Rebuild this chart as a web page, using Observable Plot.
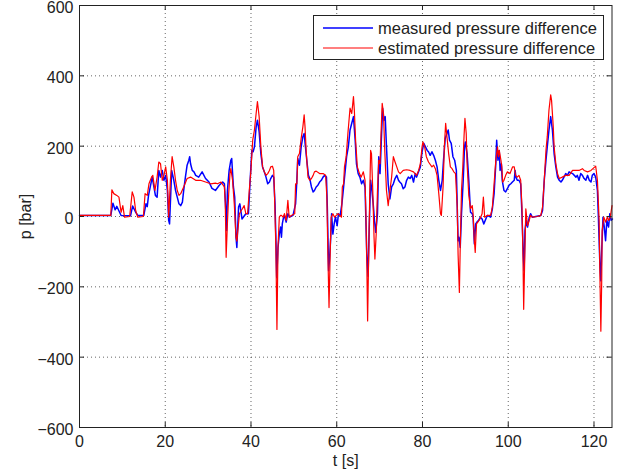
<!DOCTYPE html>
<html>
<head>
<meta charset="utf-8">
<script src="https://cdn.jsdelivr.net/npm/d3@7"></script>
<script src="https://cdn.jsdelivr.net/npm/@observablehq/plot@0.6"></script>
<style>
  html, body { margin: 0; padding: 0; background: #fff; }
  #wrap { position: relative; width: 621px; height: 473px; font-family: "Liberation Sans", Arial, Helvetica, sans-serif; }
  #legend { position: absolute; left: 313px; top: 15px; width: 291px; height: 45px; border: 1px solid #222; background: #fff; box-sizing: border-box; }
  #legend .row { position: absolute; left: 0; height: 20px; display: flex; align-items: center; font-size: 16.5px; color: #222; white-space: nowrap; }
  #legend svg { margin-left: 9px; margin-right: 5px; }
</style>
</head>
<body>
<div id="wrap"></div>
<script>
// ---- data ----
const seriesNames = ["measured pressure difference", "estimated pressure difference"];
const seriesColors = ["#0000ff", "#ff0000"];
const xTicks = [0, 20, 40, 60, 80, 100, 120];
const yTicks = [-600, -400, -200, 0, 200, 400, 600];

const measuredT = [0,7.3,7.8,8.3,8.7,9.7,11.9,12.4,13.1,13.6,15.0,15.5,15.8,16.1,16.96,17.7,18.1,18.5,18.9,19.3,19.7,20.1,20.5,20.8,21.0,21.5,22.0,22.4,22.8,23.2,23.6,24.0,24.3,24.7,25.1,25.5,25.7,25.9,26.3,26.7,27.1,27.8,28.6,29.4,30.2,30.9,31.7,32.6,33.4,33.8,34.2,34.3,34.5,34.9,35.3,35.5,35.9,36.2,36.5,36.7,37.1,37.4,37.9,38.2,38.8,39.4,39.8,40.2,40.5,40.8,41.2,41.5,41.9,42.3,42.7,43.1,43.5,43.9,44.3,44.6,45.0,45.3,45.6,45.8,46.0,46.3,46.6,46.9,47.1,47.3,47.6,47.8,48.2,48.6,49.0,49.8,50.4,50.7,50.9,51.3,51.7,52.1,52.4,52.7,53.1,53.4,53.7,54.1,54.5,54.8,55.2,55.6,56.0,56.4,56.8,57.2,57.6,57.8,58.1,58.3,58.6,58.8,59.1,59.4,59.7,60.1,60.4,60.8,61.2,61.6,61.9,62.3,62.7,63.1,63.5,63.9,64.3,64.6,65.0,65.4,65.8,66.2,66.6,66.8,67.0,67.3,67.6,67.9,68.2,68.5,68.8,69.1,69.5,69.8,70.1,70.4,70.7,71.0,71.3,71.6,72.0,72.4,72.8,73.2,73.6,74.0,74.4,74.7,75.1,75.5,75.9,76.3,76.7,77.1,77.5,77.9,78.3,78.6,79.5,79.9,80.3,80.7,81.1,81.4,81.8,82.2,82.6,83.0,83.4,83.8,84.2,84.6,84.9,85.3,85.7,86.0,86.3,86.7,87.1,87.5,87.9,88.3,88.5,88.8,89.1,89.5,89.8,90.0,90.4,90.8,91.2,91.6,91.8,92.1,92.4,92.7,93.1,93.5,93.9,94.3,95.1,95.9,96.3,96.7,97.1,97.3,97.6,97.9,98.1,98.4,98.6,99.0,99.4,99.8,100.2,100.6,100.97,101.4,101.6,101.8,102.1,102.5,102.9,103.2,103.5,103.7,103.9,104.2,104.5,104.9,105.2,105.6,106.4,107.6,108.0,108.4,108.8,109.1,109.5,109.9,110.3,110.7,111.1,111.5,111.9,112.3,112.6,113.0,113.4,113.8,114.2,115.0,115.8,116.1,116.5,116.9,117.3,117.7,118.1,118.5,118.9,119.3,119.6,120.0,120.4,120.8,121.0,121.2,121.4,121.6,121.8,122.1,122.4,122.7,123.0,123.4,123.7,124.0,124.3];
const measuredP = [3,3,38,19,29,3,2,30,12,3,3,36,28,60,112,60,55,131,112,131,103,117,74,-11,-21,131,103,74,55,36,31,41,74,112,146,160,170,150,131,127,117,112,127,108,98,80,74,89,98,93,-2,-40,74,131,160,165,84,55,-59,-88,27,36,-7,-2,8,8,103,188,184,198,255,274,241,179,141,127,112,93,98,108,117,112,36,-59,-174,-88,-50,-30,-59,-21,-2,3,-16,8,-2,3,36,103,165,146,198,227,236,198,150,117,108,84,70,74,84,89,98,103,112,117,112,27,-154,-125,-59,8,-50,-21,-2,-26,8,3,36,84,122,170,198,246,265,284,217,150,122,112,93,103,84,-11,-107,-170,-21,103,74,36,-11,-45,8,170,122,217,308,274,284,198,93,50,84,93,108,117,103,98,93,79,84,103,112,108,117,98,122,112,141,184,208,198,188,184,174,184,174,160,141,103,74,103,160,222,236,246,217,208,170,160,131,-69,-59,-88,8,103,198,212,179,103,12,8,-2,-78,-21,-16,-11,-2,-7,-21,3,-2,22,65,150,217,160,188,131,150,103,74,70,79,89,93,98,103,131,112,103,103,93,8,-107,-154,-40,-11,-30,-2,8,-2,0,3,17,103,160,198,246,284,246,179,141,112,103,98,103,112,122,117,127,122,112,117,103,122,117,108,103,117,103,98,117,122,112,74,8,-69,-145,-183,-97,-2,-30,-69,-11,-30,8,-11,-7];

const estimatedT = [0,7.3,7.55,8.0,8.7,9.2,9.7,10.1,10.5,11.7,12.3,12.7,13.1,13.6,14.9,15.3,15.8,16.2,16.8,17.1,17.6,18.1,18.5,18.9,19.3,19.7,20.1,20.5,20.8,21.2,21.6,22.0,22.4,22.8,23.2,23.6,24.3,25.1,25.9,27.1,28.2,29.4,30.6,31.7,32.2,33.0,33.8,34.0,34.2,34.5,34.8,35.1,35.3,35.7,36.1,36.5,36.7,37.3,37.7,38.0,38.4,38.8,39.2,39.6,39.98,40.4,40.8,41.2,41.5,41.9,42.3,42.7,43.1,43.5,43.9,44.3,44.6,45.0,45.3,45.5,45.8,46.05,46.3,46.6,46.9,47.1,47.5,47.8,48.2,48.6,48.9,49.4,50.2,50.4,50.7,50.9,51.3,51.7,52.1,52.4,52.6,52.9,53.3,53.7,54.1,54.5,54.8,55.2,56.0,56.8,57.4,57.7,57.9,58.2,58.5,58.7,59.1,59.5,59.9,60.3,60.7,61.1,61.3,61.6,61.8,62.2,62.6,63.1,63.5,63.9,64.1,64.4,64.8,65.3,65.7,66.2,66.6,66.8,66.99,67.2,67.4,67.7,67.9,68.1,68.4,68.7,68.9,69.2,69.5,69.8,70.1,70.3,70.6,70.9,71.2,71.6,72.0,72.4,72.8,73.2,73.6,74.0,74.4,74.8,75.5,76.3,77.1,77.9,78.6,79.1,79.5,79.9,80.1,80.5,80.9,81.4,82.2,82.6,83.0,83.4,83.8,84.2,84.4,84.8,85.1,85.4,85.7,86.1,86.5,86.9,87.3,87.7,88.1,88.3,88.6,88.8,89.1,89.4,89.7,89.9,90.2,90.4,90.8,91.2,91.6,91.8,92.1,92.3,92.6,92.9,93.4,93.9,94.2,94.5,95.1,95.9,96.3,96.7,97.1,97.5,97.7,97.9,98.3,98.5,98.7,99.0,99.4,99.8,100.4,101.0,101.4,101.7,102.1,102.5,102.9,103.2,103.4,103.6,103.9,104.1,104.5,104.9,105.2,105.6,106.8,107.6,108.0,108.4,108.8,109.1,109.5,109.9,110.1,110.5,110.7,111.1,111.5,111.9,112.6,113.4,114.2,115.0,115.8,116.5,117.3,117.7,118.5,119.3,120.0,120.4,120.8,121.2,121.4,121.6,121.8,121.9,122.3,122.7,123.1,123.4,123.8,124.2];
const estimatedP = [3,3,76,65,60,55,12,31,-2,0,70,55,17,-2,0,65,60,93,112,117,74,112,155,150,103,117,141,103,-2,103,170,141,103,74,60,65,84,108,112,103,103,98,93,95,93,98,84,40,-116,-20,65,122,136,103,36,-59,-70,8,17,22,31,8,8,74,131,217,246,293,327,284,198,141,127,117,122,131,141,143,131,55,-88,-321,-88,-2,3,3,-2,8,-11,46,-2,3,8,93,93,170,179,222,255,289,255,179,112,103,108,117,127,129,122,122,117,55,-88,-259,-88,-2,8,-2,3,8,3,-2,84,93,141,170,236,308,293,341,303,217,141,122,112,127,103,8,-116,-297,-145,65,188,179,74,-59,-121,-50,74,160,150,227,322,293,188,74,31,74,112,170,155,141,127,122,131,133,131,127,117,131,150,198,212,198,170,155,141,146,136,117,65,8,3,84,198,265,227,179,141,136,127,122,27,-107,-216,-88,74,141,231,279,236,150,60,22,31,8,-69,-102,-21,-16,-7,8,55,-2,3,3,27,93,160,198,170,188,160,141,98,103,117,127,122,141,141,117,112,117,103,27,-88,-264,-88,22,-26,-11,3,-2,0,3,27,103,188,227,303,346,331,255,198,150,122,108,112,117,117,131,131,131,136,131,127,131,139,143,103,-11,-183,-326,-183,-40,-2,-16,-2,-11,-2,31];

const measured = measuredT.map((t, i) => ({t, p: measuredP[i]}));
const estimated = estimatedT.map((t, i) => ({t, p: estimatedP[i]}));

const W = 621, H = 473;
const mL = 79, mR = 9.5, mT = 5, mB = 46;
const innerW = W - mL - mR, innerH = H - mT - mB;
const tickLen = 5;
const ink = "#222";

const chart = Plot.plot({
  width: W,
  height: H,
  marginLeft: mL,
  marginRight: mR,
  marginTop: mT,
  marginBottom: mB,
  style: { fontFamily: '"Liberation Sans", Arial, Helvetica, sans-serif', fontSize: "16px", color: ink, background: "#fff", overflow: "visible" },
  x: { domain: [0, 124.2] },
  y: { domain: [-600, 600] },
  marks: [
    Plot.gridX(xTicks, { stroke: "#333", strokeOpacity: 0.75, strokeDasharray: "1,3" }),
    Plot.gridY(yTicks, { stroke: "#333", strokeOpacity: 0.75, strokeDasharray: "1,3" }),
    Plot.line(measured, { x: "t", y: "p", stroke: seriesColors[0], strokeWidth: 1.5 }),
    Plot.line(estimated, { x: "t", y: "p", stroke: seriesColors[1], strokeWidth: 1.2 }),
    // inward tick marks on all four sides
    Plot.ruleX(xTicks, { x: d => d, stroke: ink, insetTop: innerH - tickLen }),
    Plot.ruleX(xTicks, { x: d => d, stroke: ink, insetBottom: innerH - tickLen }),
    Plot.ruleY(yTicks, { y: d => d, stroke: ink, insetRight: innerW - tickLen }),
    Plot.ruleY(yTicks, { y: d => d, stroke: ink, insetLeft: innerW - tickLen }),
    Plot.frame({ stroke: ink, strokeWidth: 1 }),
    Plot.axisX({ ticks: xTicks, tickSize: 0, tickPadding: 8, fontSize: 16, label: "t [s]", labelAnchor: "center", labelOffset: 38, labelArrow: "none" }),
    Plot.axisY({ ticks: yTicks, tickSize: 0, tickPadding: 6, fontSize: 16, dy: 2.5, tickFormat: d => d < 0 ? "\u2212" + Math.abs(d) : String(d), label: "p [bar]", labelAnchor: "center", labelOffset: 60, labelArrow: "none" })
  ]
});

const wrap = document.getElementById("wrap");
wrap.appendChild(chart);

// legend (drawn above the svg, inside the axes box like the original)
const legend = document.createElement("div");
legend.id = "legend";
seriesNames.forEach((name, i) => {
  const row = document.createElement("div");
  row.className = "row";
  row.style.top = (2 + i * 20) + "px";
  row.innerHTML = `<svg width="50" height="4"><line x1="0" x2="50" y1="2" y2="2" stroke="${seriesColors[i]}" stroke-width="${i === 0 ? 1.5 : 1.2}"/></svg><span>${name}</span>`;
  legend.appendChild(row);
});
wrap.appendChild(legend);
</script>
</body>
</html>
